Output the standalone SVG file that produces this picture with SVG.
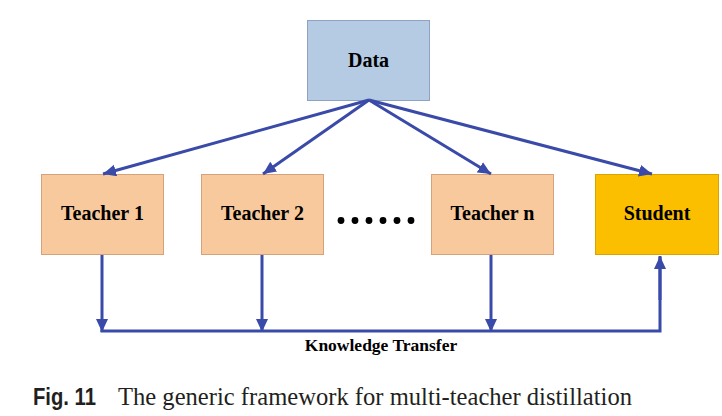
<svg xmlns="http://www.w3.org/2000/svg" width="722" height="416" viewBox="0 0 722 416">
<style>
.node text{font-family:"Liberation Serif","Times New Roman",serif;font-weight:bold;font-size:20px;fill:#000;text-anchor:middle}
.teacher rect{fill:#f8c99c;stroke:#d6a27c;stroke-width:1}
.conn{fill:none;stroke:#3a4aa8;stroke-width:3}
.lbl{font-family:"Liberation Serif","Times New Roman",serif;font-weight:bold;font-size:17.5px;fill:#000;text-anchor:middle}
.cap{font-family:"Liberation Serif","Times New Roman",serif;font-size:24.5px;fill:#231f20}
.fig{font-family:"Liberation Sans",Arial,sans-serif;font-weight:bold;font-size:23px;fill:#231f20}
</style>
<defs>
<marker id="ah" markerUnits="userSpaceOnUse" markerWidth="14" markerHeight="13" refX="13" refY="6" orient="auto">
<path d="M0,0 L13,6 L0,12 z" fill="#3a4aa8"/>
</marker>
</defs>
<rect width="722" height="416" fill="#fff"/>
<g id="data" class="node">
<rect x="307.5" y="20.5" width="122" height="80" fill="#b5cae3" stroke="#8ea3c3" stroke-width="1"/>
<text x="368.5" y="67">Data</text>
</g>
<g id="teacher1" class="node teacher">
<rect x="41.5" y="174.5" width="122" height="80"/>
<text x="102.5" y="220">Teacher 1</text>
</g>
<g id="teacher2" class="node teacher">
<rect x="201.5" y="174.5" width="122" height="80"/>
<text x="262.5" y="220">Teacher 2</text>
</g>
<g id="dots">
<circle cx="341" cy="220.5" r="3.4"/>
<circle cx="355" cy="220.5" r="3.4"/>
<circle cx="369" cy="220.5" r="3.4"/>
<circle cx="383" cy="220.5" r="3.4"/>
<circle cx="397" cy="220.5" r="3.4"/>
<circle cx="411" cy="220.5" r="3.4"/>
</g>
<g id="teachern" class="node teacher">
<rect x="431.5" y="174.5" width="122" height="80"/>
<text x="492.5" y="220">Teacher n</text>
</g>
<g id="student" class="node">
<rect x="595.5" y="174.5" width="123" height="80" fill="#fbbf00" stroke="#d9a400" stroke-width="1"/>
<text x="657" y="220">Student</text>
</g>
<g id="connectors">
<line class="conn" x1="369" y1="100" x2="103" y2="174" marker-end="url(#ah)"/>
<line class="conn" x1="369" y1="100" x2="263" y2="174" marker-end="url(#ah)"/>
<line class="conn" x1="369" y1="100" x2="491" y2="174" marker-end="url(#ah)"/>
<line class="conn" x1="369" y1="100" x2="652" y2="174" marker-end="url(#ah)"/>
<line class="conn" x1="102" y1="255" x2="102" y2="332" marker-end="url(#ah)"/>
<line class="conn" x1="262" y1="255" x2="262" y2="332" marker-end="url(#ah)"/>
<line class="conn" x1="491" y1="255" x2="491" y2="332" marker-end="url(#ah)"/>
<polyline class="conn" points="100.5,331 660,331 660,257"/>
<line class="conn" x1="660" y1="300" x2="660" y2="256" marker-end="url(#ah)"/>
<text class="lbl" x="381" y="351">Knowledge Transfer</text>
</g>
<text class="fig" x="33" y="405" textLength="63" lengthAdjust="spacingAndGlyphs">Fig. 11</text>
<text class="cap" x="118" y="405" textLength="514" lengthAdjust="spacingAndGlyphs">The generic framework for multi-teacher distillation</text>
</svg>
